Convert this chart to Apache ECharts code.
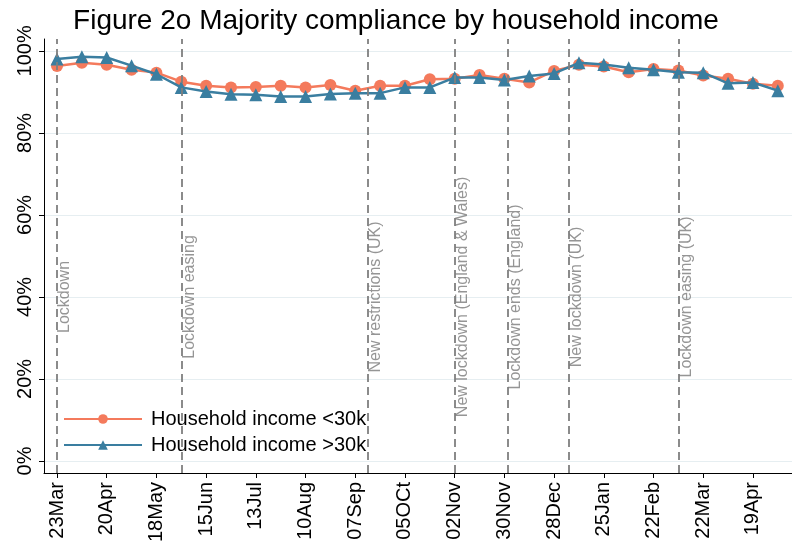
<!DOCTYPE html>
<html>
<head>
<meta charset="utf-8">
<script src="https://cdn.jsdelivr.net/npm/echarts@6/dist/echarts.min.js"></script>
<style>
  html, body { margin: 0; padding: 0; background: #fff; }
  #chart { width: 792px; height: 550px; }
</style>
</head>
<body>
<div id="chart"></div>
<script>
// days since 23 Mar 2020, one survey point every two weeks
const days = [0, 14, 28, 42, 56, 70, 84, 98, 112, 126, 140, 154, 168, 182, 196,
  210, 224, 238, 252, 266, 280, 294, 308, 322, 336, 350, 364, 378, 392, 406];
const incomeLow = [96.3, 97.1, 96.6, 95.4, 94.7, 92.5, 91.5, 91.1, 91.2, 91.5,
  91.1, 91.7, 90.3, 91.5, 91.5, 93.1, 93.2, 94.1, 93.2, 92.3,
  95.1, 96.6, 96.2, 94.8, 95.6, 95.2, 94.0, 93.2, 92.0, 91.5];
const incomeHigh = [98.0, 98.6, 98.4, 96.4, 94.3, 91.1, 90.1, 89.4, 89.3, 88.9,
  88.9, 89.5, 89.7, 89.7, 91.1, 91.1, 93.5, 93.5, 92.9, 93.9,
  94.5, 97.1, 96.7, 95.9, 95.4, 94.8, 94.7, 92.1, 92.3, 90.3];
const tickDays = [0, 28, 56, 84, 112, 140, 168, 196, 224, 252, 280, 308, 336, 364, 392];
const tickLabels = ['23Mar', '20Apr', '18May', '15Jun', '13Jul', '10Aug', '07Sep', '05OCt',
  '02Nov', '30Nov', '28Dec', '25Jan', '22Feb', '22Mar', '19Apr'];
const yTicks = [0, 20, 40, 60, 80, 100];
const eventDays = [0, 70, 175, 224, 254, 288, 350];
const eventNames = ['Lockdown', 'Lockdown easing', 'New restrictions (UK)',
  'New lockdown (England & Wales)', 'Lockdown ends (England)', 'New lockdown (UK)',
  'Lockdown easing (UK)'];

const font = "'Liberation Sans', Arial, sans-serif";
const orange = '#f47a5c';
const blue = '#3a7ea0';

let myChart = echarts.init(document.getElementById('chart'));
myChart.setOption({
  animation: false,
  title: {
    text: 'Figure 2o Majority compliance by household income',
    left: 'center',
    top: 2,
    textStyle: { fontFamily: font, fontSize: 28, fontWeight: 'normal', color: '#000' }
  },
  grid: { left: 44, right: 0, top: 39, bottom: 77 },
  legend: {
    data: ['Household income <30k', 'Household income >30k'],
    orient: 'vertical',
    left: 58,
    top: 404,
    itemWidth: 78,
    itemHeight: 12,
    itemGap: 6,
    textStyle: { fontFamily: font, fontSize: 20, color: '#000', padding: [0, 0, 0, 4] }
  },
  xAxis: {
    type: 'value',
    min: -7.32,
    max: 414,
    axisLine: { onZero: false, lineStyle: { color: '#000', width: 1 } },
    axisTick: { customValues: tickDays, length: 5, lineStyle: { color: '#000' } },
    axisLabel: {
      customValues: tickDays,
      rotate: 90,
      margin: 9,
      fontFamily: font,
      fontSize: 20,
      color: '#000',
      formatter: v => tickLabels[tickDays.indexOf(v)]
    },
    splitLine: { show: false }
  },
  yAxis: {
    type: 'value',
    min: -2.93,
    max: 102.9,
    axisLine: { show: true, onZero: false, lineStyle: { color: '#000', width: 1 } },
    axisTick: { show: true, customValues: yTicks, length: 5, lineStyle: { color: '#000' } },
    axisLabel: {
      customValues: yTicks,
      rotate: 90,
      margin: 9,
      fontFamily: font,
      fontSize: 20,
      color: '#000',
      formatter: v => v + '%'
    },
    splitLine: { show: true, lineStyle: { color: '#e6eef1', width: 1 } }
  },
  series: [
    {
      name: 'Household income <30k',
      type: 'line',
      data: days.map((d, i) => [d, incomeLow[i]]),
      symbol: 'circle',
      symbolSize: 12,
      lineStyle: { color: orange, width: 2.5 },
      itemStyle: { color: orange },
      z: 3,
      markLine: {
        silent: true,
        symbol: 'none',
        label: { show: false },
        lineStyle: { color: '#7f7f7f', type: [8, 5], width: 1.8 },
        data: eventDays.map(d => ({ xAxis: d }))
      }
    },
    {
      name: 'Household income >30k',
      type: 'line',
      data: days.map((d, i) => [d, incomeHigh[i]]),
      symbol: 'triangle',
      symbolSize: 13,
      lineStyle: { color: blue, width: 2.5 },
      itemStyle: { color: blue },
      z: 4
    },
    {
      name: 'events',
      type: 'scatter',
      data: eventDays.map((d, i) => [d, 40, eventNames[i]]),
      symbolSize: 0,
      silent: true,
      label: {
        show: true,
        position: 'inside',
        rotate: 90,
        align: 'center',
        verticalAlign: 'top',
        fontFamily: font,
        fontSize: 16,
        color: '#7a7a7a',
        formatter: p => p.data[2]
      },
      z: 2
    }
  ]
});
</script>
</body>
</html>
